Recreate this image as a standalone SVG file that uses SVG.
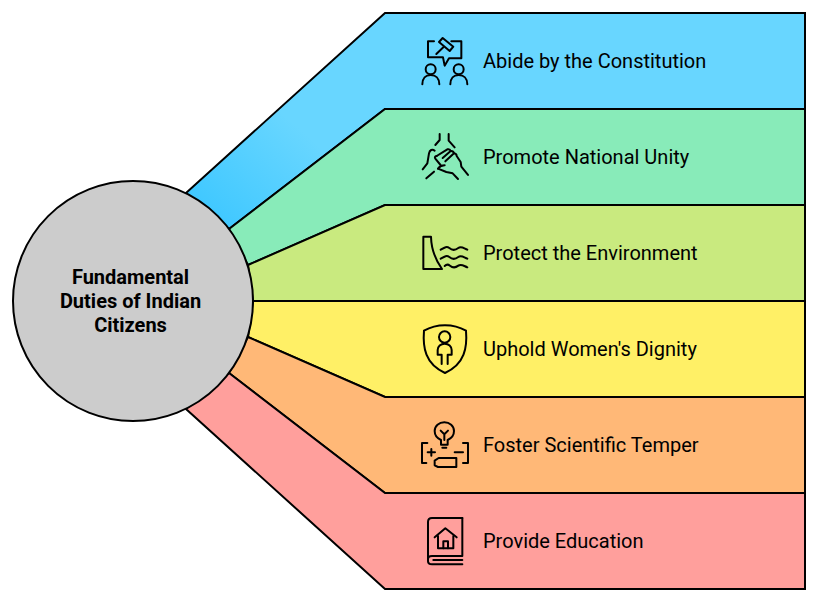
<svg xmlns="http://www.w3.org/2000/svg" width="819" height="602" viewBox="0 0 819 602">
<defs>
<linearGradient id="blueGrad" gradientUnits="userSpaceOnUse" x1="207" y1="211" x2="290" y2="120"><stop offset="0" stop-color="#40c8ff"/><stop offset="1" stop-color="#68d6ff"/></linearGradient>
</defs>
<style>
.band{stroke:#000;stroke-width:2;stroke-linejoin:miter}
.lbl{font-family:Roboto,"Liberation Sans",sans-serif;font-size:20px;fill:#000}
.ttl{font-family:Roboto,"Liberation Sans",sans-serif;font-size:20px;font-weight:700;fill:#000;text-anchor:middle}
.ic{fill:none;stroke:#000;stroke-width:6;stroke-linecap:round;stroke-linejoin:round}
</style>
<rect width="819" height="602" fill="#fff"/>
<g id="connectors">
<path class="band" fill="url(#blueGrad)" d="M186 193L385 13H805V109H385L229 229Z"/>
<path class="band" fill="#88ebb9" d="M229 229L385 109H805V205H385L248 265Z"/>
<path class="band" fill="#c9ea7f" d="M248 265L385 205H805V301H253Z"/>
<path class="band" fill="#fff066" d="M253 301H805V397H385L248 337Z"/>
<path class="band" fill="#ffb877" d="M248 337L385 397H805V493H385L229 373Z"/>
<path class="band" fill="#ff9f9c" d="M229 373L385 493H805V589H385L186 409Z"/>
</g>
<g id="center">
<circle cx="133" cy="301" r="120" fill="#cccccc" stroke="#000" stroke-width="2"/>
<text class="ttl" x="130.500" y="284">Fundamental</text>
<text class="ttl" x="130.500" y="308">Duties of Indian</text>
<text class="ttl" x="130.500" y="332">Citizens</text>
</g>
<g id="node-constitution">
<g class="ic" transform="translate(418 34) scale(.3333)">
<path d="M48 22H30V70H75L80 95L93 73H130V22H100"/>
<path d="M55 60L76 40"/>
<path d="M74 12L106 38L95 51L63 24Z"/>
<circle cx="38" cy="106" r="15"/>
<path d="M13 151C13 133 23 123 38 123C53 123 64 133 64 151"/>
<circle cx="122" cy="106" r="15"/>
<path d="M97 151C97 133 107 123 122 123C137 123 148 133 148 151"/>
</g>
<text class="lbl" x="483" y="68">Abide by the Constitution</text>
</g>
<g id="node-unity">
<g class="ic" transform="translate(418 130) scale(.3333)">
<path d="M65 12V30L52 45"/>
<path d="M92 12V32L110 52"/>
<path d="M14 118L28 100L33 70C35 60 43 56 50 62"/>
<path d="M25 145L48 125"/>
<path d="M60 116L85 126L104 130L120 147"/>
<path d="M56 78L88 58Q96 56 98 63L74 84"/>
<path d="M98 63Q106 62 108 70L82 94"/>
<path d="M108 70Q116 71 116 78L128 96L130 110L150 135"/>
<path d="M56 78Q48 80 52 86L70 108"/>
<path d="M60 116C66 108 72 106 80 106"/>
</g>
<text class="lbl" x="483" y="164">Promote National Unity</text>
</g>
<g id="node-environment">
<g class="ic" transform="translate(410 218) scale(.3333)">
<path d="M40 56H63C64 95 76 125 96 153H40Z"/>
<path d="M92 95C104 88 110 84 118 90C126 97 136 97 145 90C153 84 160 90 172 95"/>
<path d="M92 122C104 115 110 111 118 117C126 124 136 124 145 117C153 111 160 117 172 122"/>
<path d="M104 144C110 138 114 138 120 143C128 150 136 150 145 143C153 137 160 143 172 148"/>
</g>
<text class="lbl" x="483" y="260">Protect the Environment</text>
</g>
<g id="node-dignity">
<g class="ic" transform="translate(410 314) scale(.3333)">
<path d="M42 50C80 28 130 28 168 50C172 100 165 150 105 177C45 150 38 100 42 50Z"/>
<circle cx="104" cy="69" r="17"/>
<path d="M95 150V122H83V108C83 97 92 89 104 89C116 89 125 97 125 108V122H113V150"/>
</g>
<text class="lbl" x="483" y="356">Uphold Women's Dignity</text>
</g>
<g id="node-scientific">
<g class="ic" transform="translate(410 410) scale(.3333)">
<path d="M93 90C80 84 74 74 74 63C74 48 87 37 103 37C119 37 132 48 132 63C132 74 126 84 113 90V104H93Z"/>
<path d="M103 90V73L92 62M103 73L114 62"/>
<path d="M97 113H109"/>
<path d="M52 99H36V159H49"/>
<path d="M159 99H174V159H159"/>
<path d="M64 117V137M53 127H75"/>
<path d="M134 127H159"/>
<path d="M86 144H139V171H84L74 166V152Z"/>
</g>
<text class="lbl" x="483" y="452">Foster Scientific Temper</text>
</g>
<g id="node-education">
<g class="ic" transform="translate(410 506) scale(.3333)">
<path d="M157 36H66C59 36 54 41 54 48V165C54 171 59 175 66 175H157"/>
<path d="M54 160C54 154 59 150 66 150H157V36"/>
<path d="M70 162H157"/>
<path d="M74 94L106 67L140 94"/>
<path d="M84 90V127H130V90"/>
<path d="M100 127V106H114V127"/>
</g>
<text class="lbl" x="483" y="548">Provide Education</text>
</g>
</svg>
